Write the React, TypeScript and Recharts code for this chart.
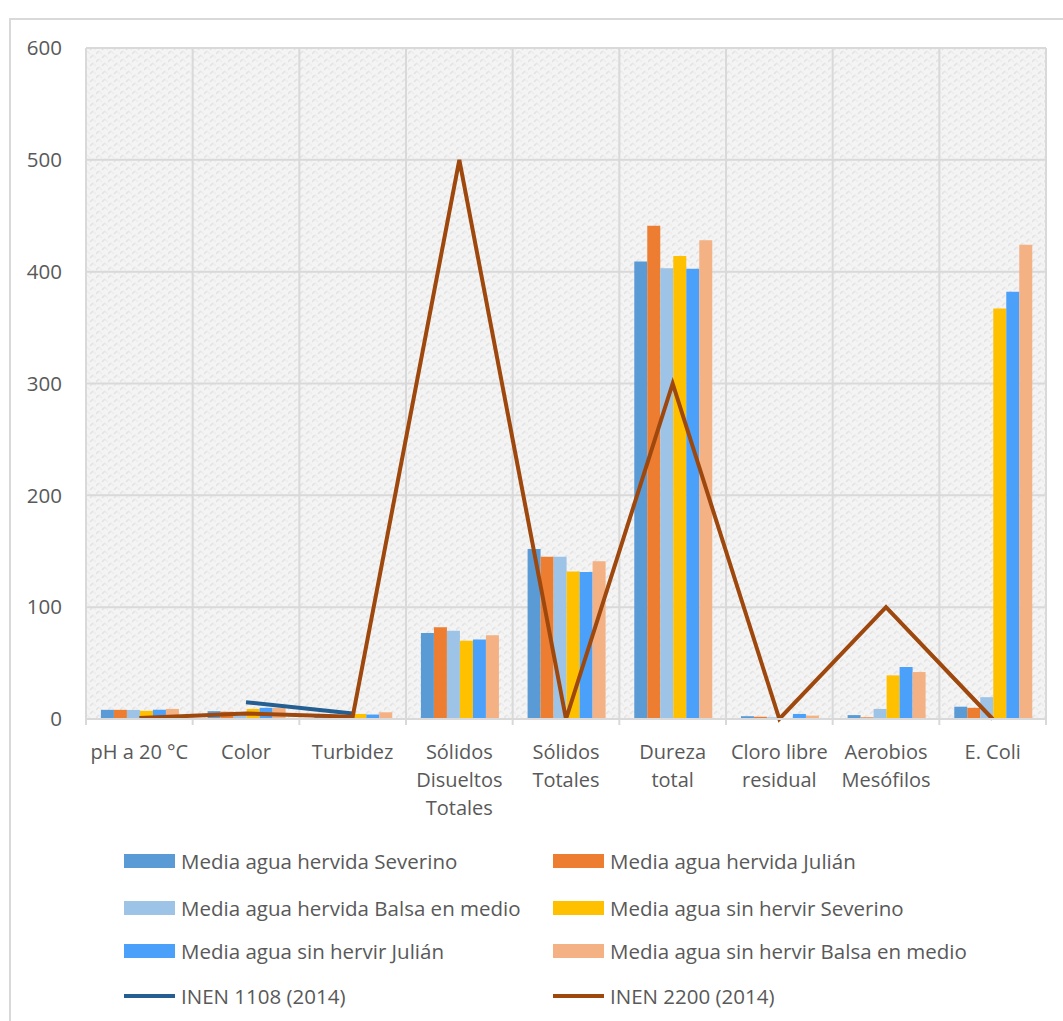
import React from 'react';
import { ComposedChart, Bar, Line, XAxis, YAxis, CartesianGrid } from 'recharts';

// Parameters measured (multi-line labels use "\n")
const categories = [
  'pH a 20 °C',
  'Color',
  'Turbidez',
  'Sólidos\nDisueltos\nTotales',
  'Sólidos\nTotales',
  'Dureza\ntotal',
  'Cloro libre\nresidual',
  'Aerobios\nMesófilos',
  'E. Coli',
];

const hervidaSeverino = [8.2, 7, 2, 77, 152, 409, 2.5, 3.5, 11];
const hervidaJulian = [8.2, 6.5, 1.5, 82, 145, 441, 2, 1.5, 10];
const hervidaBalsa = [8.1, 6, 1, 79, 145, 403, 1.5, 9, 19.5];
const sinHervirSeverino = [7.3, 9, 4.5, 70, 132, 414, 0, 39, 367];
const sinHervirJulian = [8.3, 10, 4, 71, 131.5, 402.5, 4.5, 46.5, 382];
const sinHervirBalsa = [9, 10, 6, 75, 141, 428, 3, 42, 424];
const inen1108 = [null, 15, 5, null, null, null, null, null, null];
const inen2200 = [1, 5, 2, 500, 0, 300, 0, 100, 0];

const yTicks = [0, 100, 200, 300, 400, 500, 600];

const barSeries = [
  { key: 'hs', name: 'Media agua hervida Severino', values: hervidaSeverino, color: '#5B9BD5' },
  { key: 'hj', name: 'Media agua hervida Julián', values: hervidaJulian, color: '#ED7D31' },
  { key: 'hb', name: 'Media agua hervida Balsa en medio', values: hervidaBalsa, color: '#9DC3E6' },
  { key: 'ss', name: 'Media agua sin hervir Severino', values: sinHervirSeverino, color: '#FFC000' },
  { key: 'sj', name: 'Media agua sin hervir Julián', values: sinHervirJulian, color: '#4BA0FA' },
  { key: 'sb', name: 'Media agua sin hervir Balsa en medio', values: sinHervirBalsa, color: '#F4B183' },
];

const lineSeries = [
  { key: 'n1108', name: 'INEN 1108 (2014)', values: inen1108, color: '#255E91' },
  { key: 'n2200', name: 'INEN 2200 (2014)', values: inen2200, color: '#9E480E' },
];

const data = categories.map((c, i) => {
  const row: Record<string, any> = { cat: c };
  barSeries.forEach((s) => (row[s.key] = s.values[i]));
  lineSeries.forEach((s) => (row[s.key] = s.values[i]));
  return row;
});

const FONT = '"Open Sans", sans-serif';
const TEXT = '#595959';
const GRID = '#d9d9d9';

const CategoryTick = (props: any) => {
  const { x, y, payload, index, width } = props;
  const band = width / categories.length;
  const lines = String(payload.value).split('\n');
  return (
    <g>
      <line x1={x - band / 2} x2={x - band / 2} y1={y - 20} y2={y - 14} stroke={GRID} strokeWidth={2} />
      {index === categories.length - 1 && (
        <line x1={x + band / 2} x2={x + band / 2} y1={y - 20} y2={y - 14} stroke={GRID} strokeWidth={2} />
      )}
      <text x={x} y={y} textAnchor="middle" fill={TEXT} fontFamily={FONT} fontSize={20}>
        {lines.map((l, i) => (
          <tspan key={i} x={x} dy={i === 0 ? 20 : 28}>
            {l}
          </tspan>
        ))}
      </text>
    </g>
  );
};

const LegendBlock = () => {
  const items = [...barSeries.map((s) => ({ ...s, kind: 'bar' })), ...lineSeries.map((s) => ({ ...s, kind: 'line' }))];
  const rowsY = [861, 908, 951, 996];
  return (
    <>
      {items.map((it, i) => {
        const col = i % 2;
        const row = Math.floor(i / 2);
        const left = col === 0 ? 124 : 553;
        const cy = rowsY[row];
        return (
          <div
            key={it.key}
            style={{ position: 'absolute', left, top: cy - 14, height: 28, display: 'flex', alignItems: 'center' }}
          >
            <div
              style={{
                width: 51,
                height: it.kind === 'bar' ? 14 : 4,
                background: it.color,
                marginRight: 6,
              }}
            />
            <span style={{ fontFamily: FONT, fontSize: 20.5, color: TEXT, whiteSpace: 'nowrap' }}>{it.name}</span>
          </div>
        );
      })}
    </>
  );
};

export default function App() {
  return (
    <div style={{ position: 'absolute', left: 0, top: 0, width: 1063, height: 1021, background: '#fff', overflow: 'hidden' }}>
      <div style={{ position: 'absolute', left: 9, top: 18, width: 1100, height: 1100, border: `2px solid ${GRID}` }} />
      <ComposedChart
        width={1063}
        height={1021}
        data={data}
        margin={{ top: 48, right: 17, bottom: 172, left: 26 }}
        barCategoryGap="14%"
        barGap={0}
        style={{ position: 'absolute', left: 0, top: 0 }}
      >
        <defs>
          {/* light woven texture behind the plot */}
          <pattern id="weave" width="12" height="8" patternUnits="userSpaceOnUse">
            <rect width="12" height="8" fill="#f4f4f4" />
            <path d="M0 6 L3 3 M6 2 L9 -1 M6 10 L9 7" stroke="#e3e3e3" strokeWidth="1.6" fill="none" />
            <path d="M3 3 L6 6 M9 7 L12 10 M9 -1 L12 2" stroke="#ebebeb" strokeWidth="1.2" fill="none" />
          </pattern>
        </defs>
        <CartesianGrid
          stroke={GRID}
          strokeWidth={2}
          fill="url(#weave)"
          fillOpacity={1}
          verticalCoordinatesGenerator={({ offset }: any) =>
            Array.from({ length: categories.length + 1 }, (_, i) => offset.left + (i * offset.width) / categories.length)
          }
        />
        <XAxis
          dataKey="cat"
          interval={0}
          axisLine={{ stroke: GRID, strokeWidth: 2 }}
          tickLine={false}
          tickSize={0}
          tickMargin={20}
          height={130}
          tick={<CategoryTick />}
        />
        <YAxis
          domain={[0, 600]}
          ticks={yTicks}
          axisLine={false}
          tickLine={false}
          tickSize={0}
          tickMargin={24}
          width={60}
          tick={{ fill: TEXT, fontFamily: FONT, fontSize: 20.5 }}
        />
        {barSeries.map((s) => (
          <Bar key={s.key} dataKey={s.key} name={s.name} fill={s.color} isAnimationActive={false} />
        ))}
        {lineSeries.map((s) => (
          <Line
            key={s.key}
            dataKey={s.key}
            name={s.name}
            stroke={s.color}
            strokeWidth={4}
            dot={false}
            type="linear"
            connectNulls={false}
            isAnimationActive={false}
          />
        ))}
      </ComposedChart>
      <LegendBlock />
    </div>
  );
}
